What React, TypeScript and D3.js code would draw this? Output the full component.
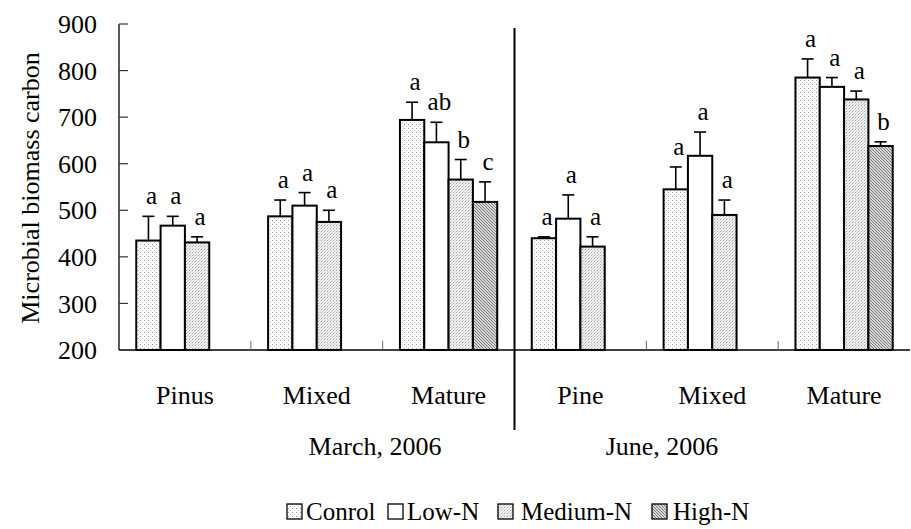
import React from "react";
import * as d3 from "d3";

const groups = ["Pinus", "Mixed", "Mature", "Pine", "Mixed", "Mature"];
const periods = ["March, 2006", "June, 2006"];
const seriesNames = ["Conrol", "Low-N", "Medium-N", "High-N"];
const yTicks = [200, 300, 400, 500, 600, 700, 800, 900];

const controlVals = [435, 487, 694, 440, 545, 785];
const controlErr = [52, 35, 38, 3, 48, 40];
const lowVals = [467, 510, 646, 482, 617, 765];
const lowErr = [20, 28, 43, 51, 51, 20];
const medVals = [431, 475, 566, 422, 490, 738];
const medErr = [12, 25, 43, 21, 32, 18];
const highVals: (number | null)[] = [null, null, 518, null, null, 638];
const highErr: (number | null)[] = [null, null, 43, null, null, 9];

const controlLetters = ["a", "a", "a", "a", "a", "a"];
const lowLetters = ["a", "a", "ab", "a", "a", "a"];
const medLetters = ["a", "a", "b", "a", "a", "a"];
const highLetters = ["", "", "c", "", "", "b"];

const W = 911;
const H = 529;
const left = 119;
const right = 910;
const top = 24;
const bottom = 350;

export default function App() {
  const x = d3.scaleBand<number>().domain(d3.range(groups.length)).range([left, right]);
  const y = d3.scaleLinear().domain([200, 900]).range([bottom, top]);
  const inner = d3
    .scaleBand<number>()
    .domain([0, 1, 2, 3])
    .range([0, x.bandwidth()])
    .paddingOuter(0.71)
    .paddingInner(0);

  const series = [
    { vals: controlVals, errs: controlErr, letters: controlLetters, fill: "url(#pCtrl)" },
    { vals: lowVals, errs: lowErr, letters: lowLetters, fill: "#ffffff" },
    { vals: medVals, errs: medErr, letters: medLetters, fill: "url(#pMed)" },
    { vals: highVals, errs: highErr, letters: highLetters, fill: "url(#pHigh)" },
  ];

  const font = "Liberation Serif, Times New Roman, DejaVu Serif, serif";
  const sepX = x(3)!;

  const legendItems = [
    { name: seriesNames[0], fill: "url(#pCtrl)", x: 287, tx: 306 },
    { name: seriesNames[1], fill: "#ffffff", x: 388, tx: 407 },
    { name: seriesNames[2], fill: "url(#pMed)", x: 498, tx: 521 },
    { name: seriesNames[3], fill: "url(#pHigh)", x: 652, tx: 673 },
  ];

  return (
    <svg width={W} height={H} style={{ position: "absolute", left: 0, top: 0, background: "#fff", fontFamily: font }}>
      <defs>
        <pattern id="pCtrl" width="4" height="4" patternUnits="userSpaceOnUse">
          <rect width="4" height="4" fill="#fbfbfb" />
          <rect x="0" y="0" width="1" height="1" fill="#9a9a9a" />
          <rect x="2" y="2" width="1" height="1" fill="#c8c8c8" />
        </pattern>
        <pattern id="pMed" width="3" height="3" patternUnits="userSpaceOnUse">
          <rect width="3" height="3" fill="#f2f2f2" />
          <rect x="0" y="0" width="1" height="1" fill="#a0a0a0" />
          <rect x="1" y="2" width="1" height="1" fill="#c4c4c4" />
          <rect x="2" y="1" width="1" height="1" fill="#d4d4d4" />
        </pattern>
        <pattern id="pHigh" width="3" height="3" patternUnits="userSpaceOnUse">
          <rect width="3" height="3" fill="#d8d8d8" />
          <path d="M0,0 L3,3" stroke="#7a7a7a" strokeWidth="1" />
          <path d="M-1,2 L1,4 M2,-1 L4,1" stroke="#7a7a7a" strokeWidth="1" />
        </pattern>
      </defs>

      {/* y axis */}
      <line x1={left} x2={left} y1={top} y2={bottom} stroke="#000" strokeWidth={1.3} />
      {yTicks.map((t) => (
        <g key={t}>
          {t !== 200 && <line x1={left} x2={left + 9} y1={y(t)} y2={y(t)} stroke="#333" strokeWidth={1.2} />}
          <text x={97} y={y(t)} dy="0.35em" textAnchor="end" fontSize={26}>
            {t}
          </text>
        </g>
      ))}
      <text
        transform={`translate(${30},${(top + bottom) / 2 + 1}) rotate(-90)`}
        textAnchor="middle"
        dy="0.35em"
        fontSize={26}
      >
        Microbial biomass carbon
      </text>

      {/* bars */}
      {series.map((s, si) =>
        groups.map((g, gi) => {
          const v = s.vals[gi];
          if (v == null) return null;
          const bx = x(gi)! + inner(si)!;
          const bw = inner.bandwidth();
          const by = y(v);
          const e = s.errs[gi] as number;
          const ey = y(v + e);
          const cx = bx + bw / 2;
          return (
            <g key={`${si}-${gi}`}>
              <rect x={bx} y={by} width={bw} height={bottom - by} fill={s.fill} stroke="#000" strokeWidth={2} />
              <line x1={cx} x2={cx} y1={by} y2={ey} stroke="#000" strokeWidth={1.6} />
              <line x1={cx - 6} x2={cx + 6} y1={ey} y2={ey} stroke="#000" strokeWidth={1.6} />
              <text x={cx + 3} y={ey - 12} textAnchor="middle" fontSize={25}>
                {s.letters[gi]}
              </text>
            </g>
          );
        })
      )}

      {/* x axis */}
      <line x1={left} x2={right} y1={bottom} y2={bottom} stroke="#000" strokeWidth={1.3} />
      {d3.range(1, groups.length).map((i) => (
        <line key={i} x1={x(i)!} x2={x(i)!} y1={bottom} y2={bottom - 9} stroke="#666" strokeWidth={1} />
      ))}
      {groups.map((g, gi) => (
        <text key={gi} x={x(gi)! + x.bandwidth() / 2} y={404} textAnchor="middle" fontSize={26}>
          {g}
        </text>
      ))}
      <line x1={sepX} x2={sepX} y1={28} y2={430} stroke="#000" strokeWidth={2} />
      <text x={375} y={455} textAnchor="middle" fontSize={26}>
        {periods[0]}
      </text>
      <text x={662} y={455} textAnchor="middle" fontSize={26}>
        {periods[1]}
      </text>

      {/* legend */}
      {legendItems.map((it) => (
        <g key={it.name}>
          <rect x={it.x} y={504} width={15} height={15} fill={it.fill} stroke="#000" strokeWidth={1.3} />
          <text x={it.tx} y={520} fontSize={25}>
            {it.name}
          </text>
        </g>
      ))}
    </svg>
  );
}
